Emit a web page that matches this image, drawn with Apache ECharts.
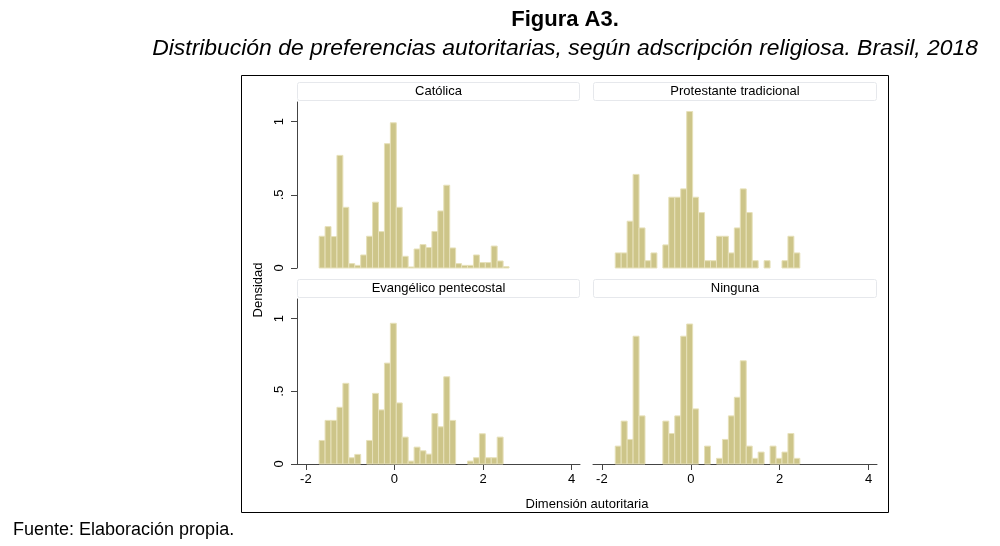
<!DOCTYPE html>
<html lang="es">
<head>
<meta charset="UTF-8">
<title>Figura A3</title>
<script src="https://cdn.jsdelivr.net/npm/echarts@6/dist/echarts.min.js"></script>
<style>
  html, body { margin: 0; padding: 0; background: #fff; }
  #chart { width: 1000px; height: 546px; }
</style>
</head>
<body>
<div id="chart"></div>
<script>
// bins of the histogram (same for every panel)
var binStart = -1.70;
var binWidth = 0.134;

var paneles = ['Católica', 'Protestante tradicional', 'Evangélico pentecostal', 'Ninguna'];

var catolica = [0.217, 0.283, 0.215, 0.77, 0.415, 0.03, 0.018, 0.089, 0.217, 0.45,
  0.249, 0.85, 0.993, 0.415, 0.08, 0.007, 0.13, 0.16, 0.14, 0.25,
  0.39, 0.566, 0.137, 0.03, 0.018, 0.018, 0.089, 0.037, 0.037, 0.15,
  0.048, 0.009];
var protestante = [0.103, 0.103, 0.32, 0.64, 0.274, 0.05, 0.103, 0, 0.158, 0.484,
  0.484, 0.541, 1.07, 0.484, 0.379, 0.05, 0.05, 0.217, 0.217, 0.103,
  0.274, 0.541, 0.379, 0.05, 0, 0.05, 0, 0, 0.05, 0.217,
  0.103];
var evangelico = [0.162, 0.30, 0.30, 0.39, 0.555, 0.043, 0.066, 0, 0.162, 0.486,
  0.372, 0.694, 0.968, 0.42, 0.185, 0.02, 0.116, 0.091, 0.068, 0.347,
  0.256, 0.60, 0.30, 0, 0, 0.02, 0.043, 0.208, 0.043, 0.043,
  0.185];
var ninguna = [0.123, 0.295, 0.169, 0.879, 0.331, 0, 0, 0, 0.295, 0.21,
  0.331, 0.879, 0.963, 0.379, 0, 0.123, 0, 0.039, 0.169, 0.331,
  0.459, 0.71, 0.123, 0.039, 0.082, 0, 0.123, 0.039, 0.082, 0.21,
  0.039];

var xTicks = [-2, 0, 2, 4];
var yTicks = [0, 0.5, 1];
var yTickLabels = ['0', '.5', '1'];

var chart = echarts.init(document.getElementById('chart'));

var font = 'Liberation Sans, Arial, sans-serif';
var grids = [
  { left: 297, top: 102, width: 283, height: 166 },
  { left: 593, top: 102, width: 284, height: 166 },
  { left: 297, top: 299, width: 283, height: 165 },
  { left: 593, top: 299, width: 284, height: 165 }
];
var valores = [catolica, protestante, evangelico, ninguna];

function toBins(heights) {
  var out = [];
  for (var i = 0; i < heights.length; i++) {
    var a = binStart + i * binWidth;
    out.push([a, a + binWidth, heights[i]]);
  }
  return out;
}

function renderBar(params, api) {
  var h = api.value(2);
  if (!h) return null;
  var p0 = api.coord([api.value(0), h]);
  var p1 = api.coord([api.value(1), 0]);
  return {
    type: 'rect',
    shape: { x: p0[0], y: p0[1], width: p1[0] - p0[0], height: p1[1] - p0[1] },
    style: { fill: '#cdc589', stroke: '#e7e1ba', lineWidth: 1 }
  };
}

var xAxis = [], yAxis = [], series = [], graphic = [];
for (var k = 0; k < 4; k++) {
  var bottom = k >= 2, left = k % 2 === 0;
  xAxis.push({
    type: 'value', gridIndex: k, min: -2.2, max: 4.19,
    show: bottom,
    splitLine: { show: false },
    axisLine: { show: true, onZero: false, lineStyle: { color: '#444', width: 1 } },
    axisTick: { show: true, length: 6, customValues: xTicks, lineStyle: { color: '#444' } },
    axisLabel: { customValues: xTicks, color: '#000', fontFamily: font, fontSize: 13, margin: 9 }
  });
  yAxis.push({
    type: 'value', gridIndex: k, min: 0, max: 1.135,
    show: left,
    splitLine: { show: false },
    axisLine: { show: true, onZero: false, lineStyle: { color: '#444', width: 1 } },
    axisTick: { show: true, length: 6, customValues: yTicks, lineStyle: { color: '#444' } },
    axisLabel: {
      customValues: yTicks, rotate: 90, color: '#000', fontFamily: font, fontSize: 13, margin: 11,
      formatter: function (v) { return yTickLabels[yTicks.indexOf(v)]; }
    }
  });
  series.push({
    type: 'custom', xAxisIndex: k, yAxisIndex: k,
    renderItem: renderBar, data: toBins(valores[k]), silent: true
  });
  // panel header strip
  var g = grids[k];
  graphic.push({
    type: 'rect',
    shape: { x: g.left + 0.5, y: g.top - 19.5, width: g.width - 1, height: 18, r: 2 },
    style: { fill: '#fff', stroke: '#e6e8ec', lineWidth: 1 }
  });
  graphic.push({
    type: 'text', x: g.left + g.width / 2, y: g.top - 10.5,
    style: { text: paneles[k], fill: '#000', font: '13px ' + font, align: 'center', verticalAlign: 'middle' }
  });
}

// outer frame and texts
graphic.push({
  type: 'rect', z: -1,
  shape: { x: 241.5, y: 75.5, width: 647, height: 437 },
  style: { fill: 'none', stroke: '#000', lineWidth: 1 }
});
graphic.push({
  type: 'text', x: 258, y: 290, rotation: Math.PI / 2,
  style: { text: 'Densidad', fill: '#000', font: '13px ' + font, align: 'center', verticalAlign: 'middle' }
});
graphic.push({
  type: 'text', x: 587, y: 504,
  style: { text: 'Dimensión autoritaria', fill: '#000', font: '13px ' + font, align: 'center', verticalAlign: 'middle' }
});
graphic.push({
  type: 'text', x: 565, y: 20,
  style: { text: 'Figura A3.', fill: '#000', font: 'bold 22px ' + font, align: 'center', verticalAlign: 'middle' }
});
graphic.push({
  type: 'text', x: 978, y: 49,
  style: { text: 'Distribución de preferencias autoritarias, según adscripción religiosa. Brasil, 2018', fill: '#000', font: 'italic 22.9px ' + font, align: 'right', verticalAlign: 'middle' }
});
graphic.push({
  type: 'text', x: 13, y: 530,
  style: { text: 'Fuente: Elaboración propia.', fill: '#000', font: '18px ' + font, align: 'left', verticalAlign: 'middle' }
});

chart.setOption({
  animation: false,
  grid: grids,
  xAxis: xAxis,
  yAxis: yAxis,
  series: series,
  graphic: graphic
});
</script>
</body>
</html>
